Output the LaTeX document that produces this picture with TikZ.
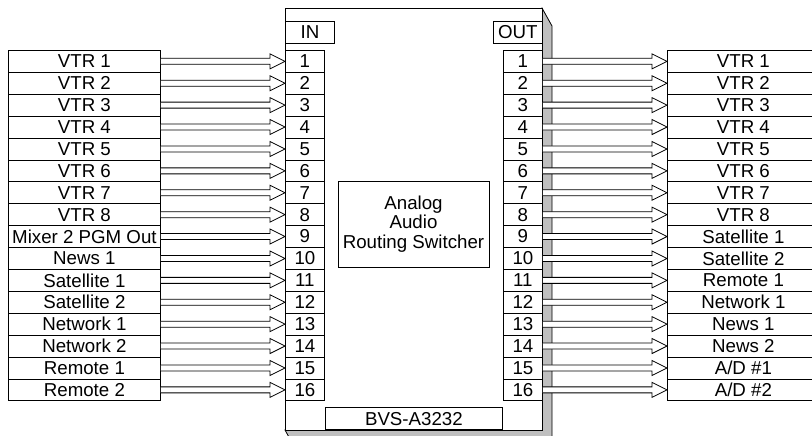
\documentclass[tikz,border=0pt]{standalone}
\usepackage{fontspec}
\setmainfont{Liberation Sans}
\usetikzlibrary{calc}
\tikzset{
  lbl/.style={draw, fill=white, minimum width=152pt, minimum height=21.9pt, inner sep=0pt, anchor=north west},
  port/.style={draw, fill=white, minimum width=39pt, minimum height=21.9pt, inner sep=0pt, anchor=north west},
  tag/.style={draw, fill=white, minimum width=49pt, minimum height=22pt, inner sep=0pt, anchor=north west},
  flow/.style={draw, fill=white, line join=miter, to path={
      let \p1=(\tikztostart.east), \p2=(\tikztotarget.west) in
      (\x1,\y1+3pt) -- (\x2-15pt,\y1+3pt) -- (\x2-15pt,\y1+7.5pt) -- (\x2,\y1)
      -- (\x2-15pt,\y1-7.5pt) -- (\x2-15pt,\y1-3pt) -- (\x1,\y1-3pt)}}
}
\begin{document}
\begin{tikzpicture}[x=1pt, y=-1pt, line width=0.8pt, font=\fontsize{18.7}{19.5}\selectfont]
  \useasboundingbox (0,0) rectangle (812,436);
  \clip (0,0) rectangle (812,436);

  % switcher frame with its shaded side
  \filldraw[fill=gray!50] (542,8) -- (552,26) -- (552,448) -- (295,448) -- (285,430) -- cycle;
  \filldraw[fill=white] (285,8) rectangle (542,430);

  \node[tag] (in) at (285,21) {IN};
  \node[tag] (out) at (493,21) {OUT};
  \node[draw, align=center, minimum width=151pt, minimum height=86pt] (core) at (413.5,224) {Analog\\Audio\\Routing Switcher};
  \node[draw, minimum width=177pt, minimum height=22pt, inner sep=0pt, anchor=south west] (model) at (325,430) {BVS-A3232};

  % inputs
  \foreach \src [count=\k] in {VTR 1, VTR 2, VTR 3, VTR 4, VTR 5, VTR 6, VTR 7, VTR 8,
      Mixer 2 PGM Out, News 1, Satellite 1, Satellite 2, Network 1, Network 2, Remote 1, Remote 2} {
    \node[lbl] (s\k) at (8, 28.1+21.9*\k) {\src};
    \node[port] (i\k) at (285, 28.1+21.9*\k) {\k};
    \path[flow] (s\k) to (i\k);
  }

  % outputs
  \foreach \dst [count=\k] in {VTR 1, VTR 2, VTR 3, VTR 4, VTR 5, VTR 6, VTR 7, VTR 8,
      Satellite 1, Satellite 2, Remote 1, Network 1, News 1, News 2, A/D \#1, A/D \#2} {
    \node[port] (o\k) at (503, 28.1+21.9*\k) {\k};
    \node[lbl] (d\k) at (667, 28.1+21.9*\k) {\dst};
    \path[flow] (o\k) to (d\k);
  }
\end{tikzpicture}
\end{document}
